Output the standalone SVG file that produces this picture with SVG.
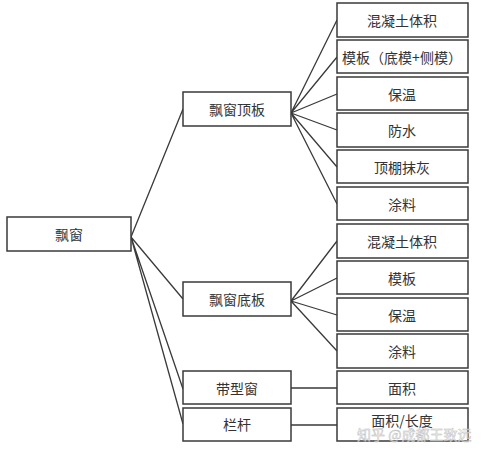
<svg xmlns="http://www.w3.org/2000/svg" width="484" height="453" viewBox="0 0 484 453">
<style>
.box{fill:#fff;stroke:#3a3a3a;stroke-width:1.5}
.t{font-family:"Noto Sans CJK SC","Noto Sans",sans-serif;font-size:14px;fill:#333;text-anchor:middle;dominant-baseline:central}
.c{stroke:#3a3a3a;stroke-width:1.3;fill:none}
.wm{font-family:"Noto Sans CJK SC",sans-serif;font-size:14px;fill:#ffffff;fill-opacity:0.6;stroke:#bbb;stroke-width:0.5}
</style>
<rect width="484" height="453" fill="#fff"/>
<g id="connectors">
<path class="c" d="M131 237L183 109M131 237L183 299M131 237L183 389M131 237L183 424"/>
<path class="c" d="M291 113L337 20M291 113L337 57M291 113L337 94M291 113L337 130M291 113L337 167M291 113L337 204"/>
<path class="c" d="M291 301L337 241M291 301L337 278M291 301L337 315M291 301L337 351"/>
<path class="c" d="M291 388H337M291 425H337"/>
</g>
<g id="n-root"><rect class="box" x="7" y="217" width="124" height="34"/><text class="t" x="69" y="234">飘窗</text></g>
<g id="n-top"><rect class="box" x="183" y="92" width="108" height="34"/><text class="t" x="237" y="109">飘窗顶板</text></g>
<g id="n-bottom"><rect class="box" x="183" y="282" width="108" height="34"/><text class="t" x="237" y="299">飘窗底板</text></g>
<g id="n-strip"><rect class="box" x="183" y="371" width="108" height="33"/><text class="t" x="237" y="388">带型窗</text></g>
<g id="n-rail"><rect class="box" x="183" y="408" width="108" height="33"/><text class="t" x="237" y="424">栏杆</text></g>
<g id="n-t1"><rect class="box" x="337" y="3" width="131" height="34"/><text class="t" x="402" y="20">混凝土体积</text></g>
<g id="n-t2"><rect class="box" x="337" y="40" width="131" height="33"/><text class="t" x="402" y="57">模板（底模+侧模）</text></g>
<g id="n-t3"><rect class="box" x="337" y="77" width="131" height="33"/><text class="t" x="402" y="94">保温</text></g>
<g id="n-t4"><rect class="box" x="337" y="113" width="131" height="34"/><text class="t" x="402" y="130">防水</text></g>
<g id="n-t5"><rect class="box" x="337" y="150" width="131" height="33"/><text class="t" x="402" y="167">顶棚抹灰</text></g>
<g id="n-t6"><rect class="box" x="337" y="187" width="131" height="33"/><text class="t" x="402" y="204">涂料</text></g>
<g id="n-b1"><rect class="box" x="337" y="224" width="131" height="34"/><text class="t" x="402" y="241">混凝土体积</text></g>
<g id="n-b2"><rect class="box" x="337" y="261" width="131" height="33"/><text class="t" x="402" y="278">模板</text></g>
<g id="n-b3"><rect class="box" x="337" y="298" width="131" height="33"/><text class="t" x="402" y="315">保温</text></g>
<g id="n-b4"><rect class="box" x="337" y="334" width="131" height="34"/><text class="t" x="402" y="351">涂料</text></g>
<g id="n-s1"><rect class="box" x="337" y="371" width="131" height="33"/><text class="t" x="402" y="388">面积</text></g>
<g id="n-r1"><rect class="box" x="337" y="408" width="131" height="33"/><text class="t" x="402" y="420">面积/长度</text></g>
<text class="wm" x="357" y="440">知乎 @成都王致远</text>
</svg>
